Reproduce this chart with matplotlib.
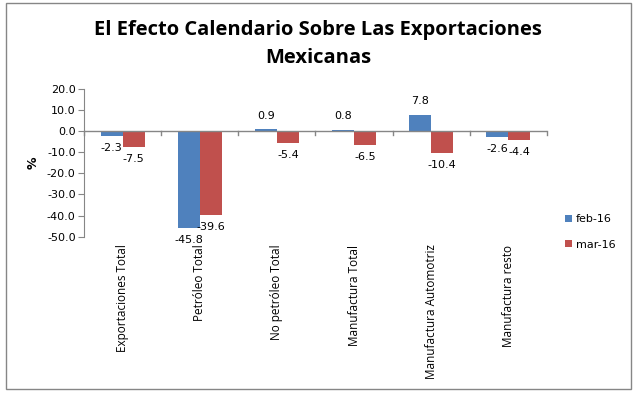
import matplotlib
matplotlib.use("Agg")
import matplotlib.pyplot as plt
import numpy as np
from matplotlib.patches import Rectangle

categories = ["Exportaciones Total", "Petróleo Total", "No petróleo Total",
              "Manufactura Total", "Manufactura Automotriz", "Manufactura resto"]
feb16 = [-2.3, -45.8, 0.9, 0.8, 7.8, -2.6]
mar16 = [-7.5, -39.6, -5.4, -6.5, -10.4, -4.4]
series_names = ["feb-16", "mar-16"]
yticks = [20, 10, 0, -10, -20, -30, -40, -50]

plt.rcParams['axes.unicode_minus'] = False
W, H = 639, 395
fig = plt.figure(figsize=(W/100, H/100), dpi=100)
fig.patch.set_facecolor('white')

# outer border
fig.add_artist(Rectangle((6/W, 1 - 389/H), (631-6)/W, (389-3)/H, transform=fig.transFigure,
                         fill=False, edgecolor='#868686', linewidth=1.0))

ax = fig.add_axes([84/W, 1 - 236.7/H, (547-84)/W, (236.7-89)/H])
x = np.arange(len(categories))
bw = 0.286
c1, c2 = '#4F81BD', '#C0504D'
b1 = ax.bar(x - bw/2, feb16, bw, color=c1, label=series_names[0])
b2 = ax.bar(x + bw/2, mar16, bw, color=c2, label=series_names[1])

ax.set_xlim(-0.5, len(categories) - 0.5)
ax.set_ylim(-50, 20)
ax.set_yticks(yticks)
ax.set_yticklabels([f"{v:.1f}" for v in yticks], fontsize=8, family='DejaVu Sans')
for s in ['top', 'right', 'bottom']:
    ax.spines[s].set_visible(False)
ax.spines['left'].set_color('#868686')
ax.tick_params(axis='y', length=4, color='#868686', pad=2)
ax.axhline(0, color='#868686', linewidth=1.0, zorder=3)
# category boundary ticks at zero line
for b in np.arange(-0.5, len(categories), 1.0):
    ax.plot([b, b], [0, -1.6], color='#868686', linewidth=1.0, clip_on=False, zorder=3)
ax.set_xticks([])

for bars, vals in [(b1, feb16), (b2, mar16)]:
    for r, v in zip(bars, vals):
        cx = r.get_x() + r.get_width()/2
        if v >= 0:
            ax.annotate(f"{v:.1f}", (cx, v), xytext=(0, 6), textcoords='offset points',
                        ha='center', va='bottom', fontsize=8, family='DejaVu Sans')
        else:
            ax.annotate(f"{v:.1f}", (cx, v), xytext=(0, -5), textcoords='offset points',
                        ha='center', va='top', fontsize=8, family='DejaVu Sans')

# category labels, rotated, below the plot area
for xi, name in zip(x, categories):
    ax.text(xi, -53.7, name, transform=ax.transData, rotation=90, ha='center', va='top',
            fontsize=8.5, family='Open Sans')

ax.set_ylabel('%', fontsize=9, family='DejaVu Sans', fontweight='bold', labelpad=5)

leg = fig.legend(handles=[b1, b2], labels=series_names, loc='upper left',
                 bbox_to_anchor=(555/W, 1 - 204/H), frameon=False, fontsize=8,
                 handlelength=0.6, handleheight=0.6, handletextpad=0.4, labelspacing=1.4,
                 prop={'family': 'DejaVu Sans', 'size': 8})

fig.text(318/W, 1 - 30/H, "El Efecto Calendario Sobre Las Exportaciones", ha='center', va='center',
         fontsize=14.5, fontweight='bold', family='Open Sans')
fig.text(318/W, 1 - 58/H, "Mexicanas", ha='center', va='center',
         fontsize=14.5, fontweight='bold', family='Open Sans')

fig.savefig('out.png', dpi=100)
